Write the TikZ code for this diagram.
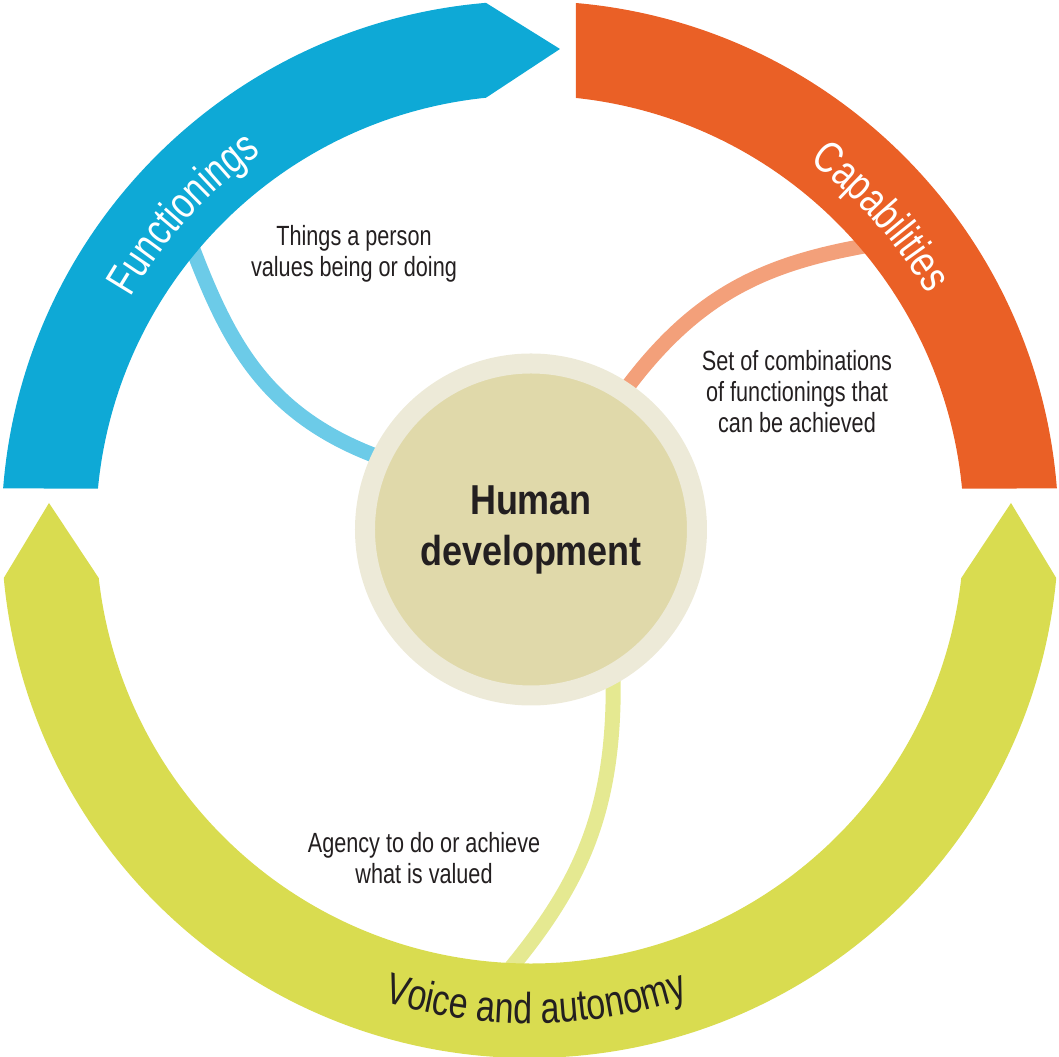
\documentclass[tikz,border=0pt]{standalone}
\usepackage{fontspec}
\setmainfont{Liberation Sans}[FakeStretch=0.78]
\newfontfamily\hdfont{Liberation Sans}[FakeStretch=0.86]
\usepackage{xcolor}
\usetikzlibrary{decorations.text,backgrounds}

\definecolor{fnblue}{RGB}{14,169,214}
\definecolor{cporange}{RGB}{234,96,38}
\definecolor{vagreen}{RGB}{217,220,80}
\definecolor{fnlight}{RGB}{108,203,232}
\definecolor{cplight}{RGB}{243,160,122}
\definecolor{valight}{RGB}{229,233,145}
\definecolor{hdouter}{RGB}{237,234,216}
\definecolor{hdinner}{RGB}{224,217,170}
\definecolor{textdark}{RGB}{35,31,32}

\begin{document}
\begin{tikzpicture}
  \tikzstyle{link}=[line width=0.15cm, shorten >=-0.25cm]
  \tikzstyle{note}=[align=center, inner sep=0pt, text=textdark,
                    font=\fontsize{7.9}{8.8}\selectfont]
  \tikzstyle{ringtext}=[decorate, decoration={text along path, text align=center}]

  \useasboundingbox (-5.30,-5.275) rectangle (5.29,5.295);

  % centre
  \node[circle, minimum size=3.32cm, inner sep=0pt, fill=hdinner, draw=hdouter,
        line width=0.2cm, align=center, text=textdark,
        font=\hdfont\bfseries\fontsize{11.9}{14.5}\selectfont] (hd) at (0.01,0) {Human\\development};

  % ring
  \fill[fnblue] (175.55:5.285) arc[start angle=175.55, end angle=94.78, radius=5.285]
        -- (0.30,4.805) -- (95.82:4.34) arc[start angle=95.82, end angle=174.58, radius=4.34] -- cycle;
  \fill[cporange] (85.01:5.285) arc[start angle=85.01, end angle=4.45, radius=5.285]
        -- (5.42:4.34) arc[start angle=5.42, end angle=83.92, radius=4.34] -- cycle;
  \fill[vagreen] (185.27:5.285) arc[start angle=185.27, end angle=354.73, radius=5.285]
        -- (4.81,0.265) -- (-6.42:4.34) arc[start angle=-6.42, end angle=-173.58, radius=4.34]
        -- (-4.81,0.265) -- cycle;

  \path[ringtext, decoration={text={|\fontsize{12.6}{15}\selectfont\color{white}|Functionings}}]
        (167.7:4.62) arc[start angle=167.7, end angle=107.7, radius=4.62];
  \path[ringtext, decoration={text={|\fontsize{12.6}{15}\selectfont\color{white}|Capabilities}}]
        (71.7:4.62) arc[start angle=71.7, end angle=11.7, radius=4.62];
  \path[ringtext, decoration={text={|\fontsize{12.4}{14}\selectfont\color{textdark}|Voice and autonomy}}]
        (-119.3:4.94) arc[start angle=-119.3, end angle=-59.3, radius=4.94];

  % links
  \coordinate (fnend) at (-3.37,2.80);
  \coordinate (cpend) at (3.40,2.845);
  \coordinate (vaend) at (-0.25,-4.455);
  \begin{scope}[on background layer]
    \draw[link, fnlight] (fnend) to[out=-69, in=162] (hd.155);
    \draw[link, cplight] (cpend) to[out=190, in=55] (hd.56);
    \draw[link, valight] (vaend) to[out=50, in=-88] (hd.-62);
  \end{scope}

  \node[note] (fnnote) at (-1.76,2.76)  {Things a person\\values being or doing};
  \node[note] (cpnote) at (2.67,1.375)  {Set of combinations\\of functionings that\\can be achieved};
  \node[note] (vanote) at (-1.06,-3.29) {Agency to do or achieve\\what is valued};
\end{tikzpicture}
\end{document}
